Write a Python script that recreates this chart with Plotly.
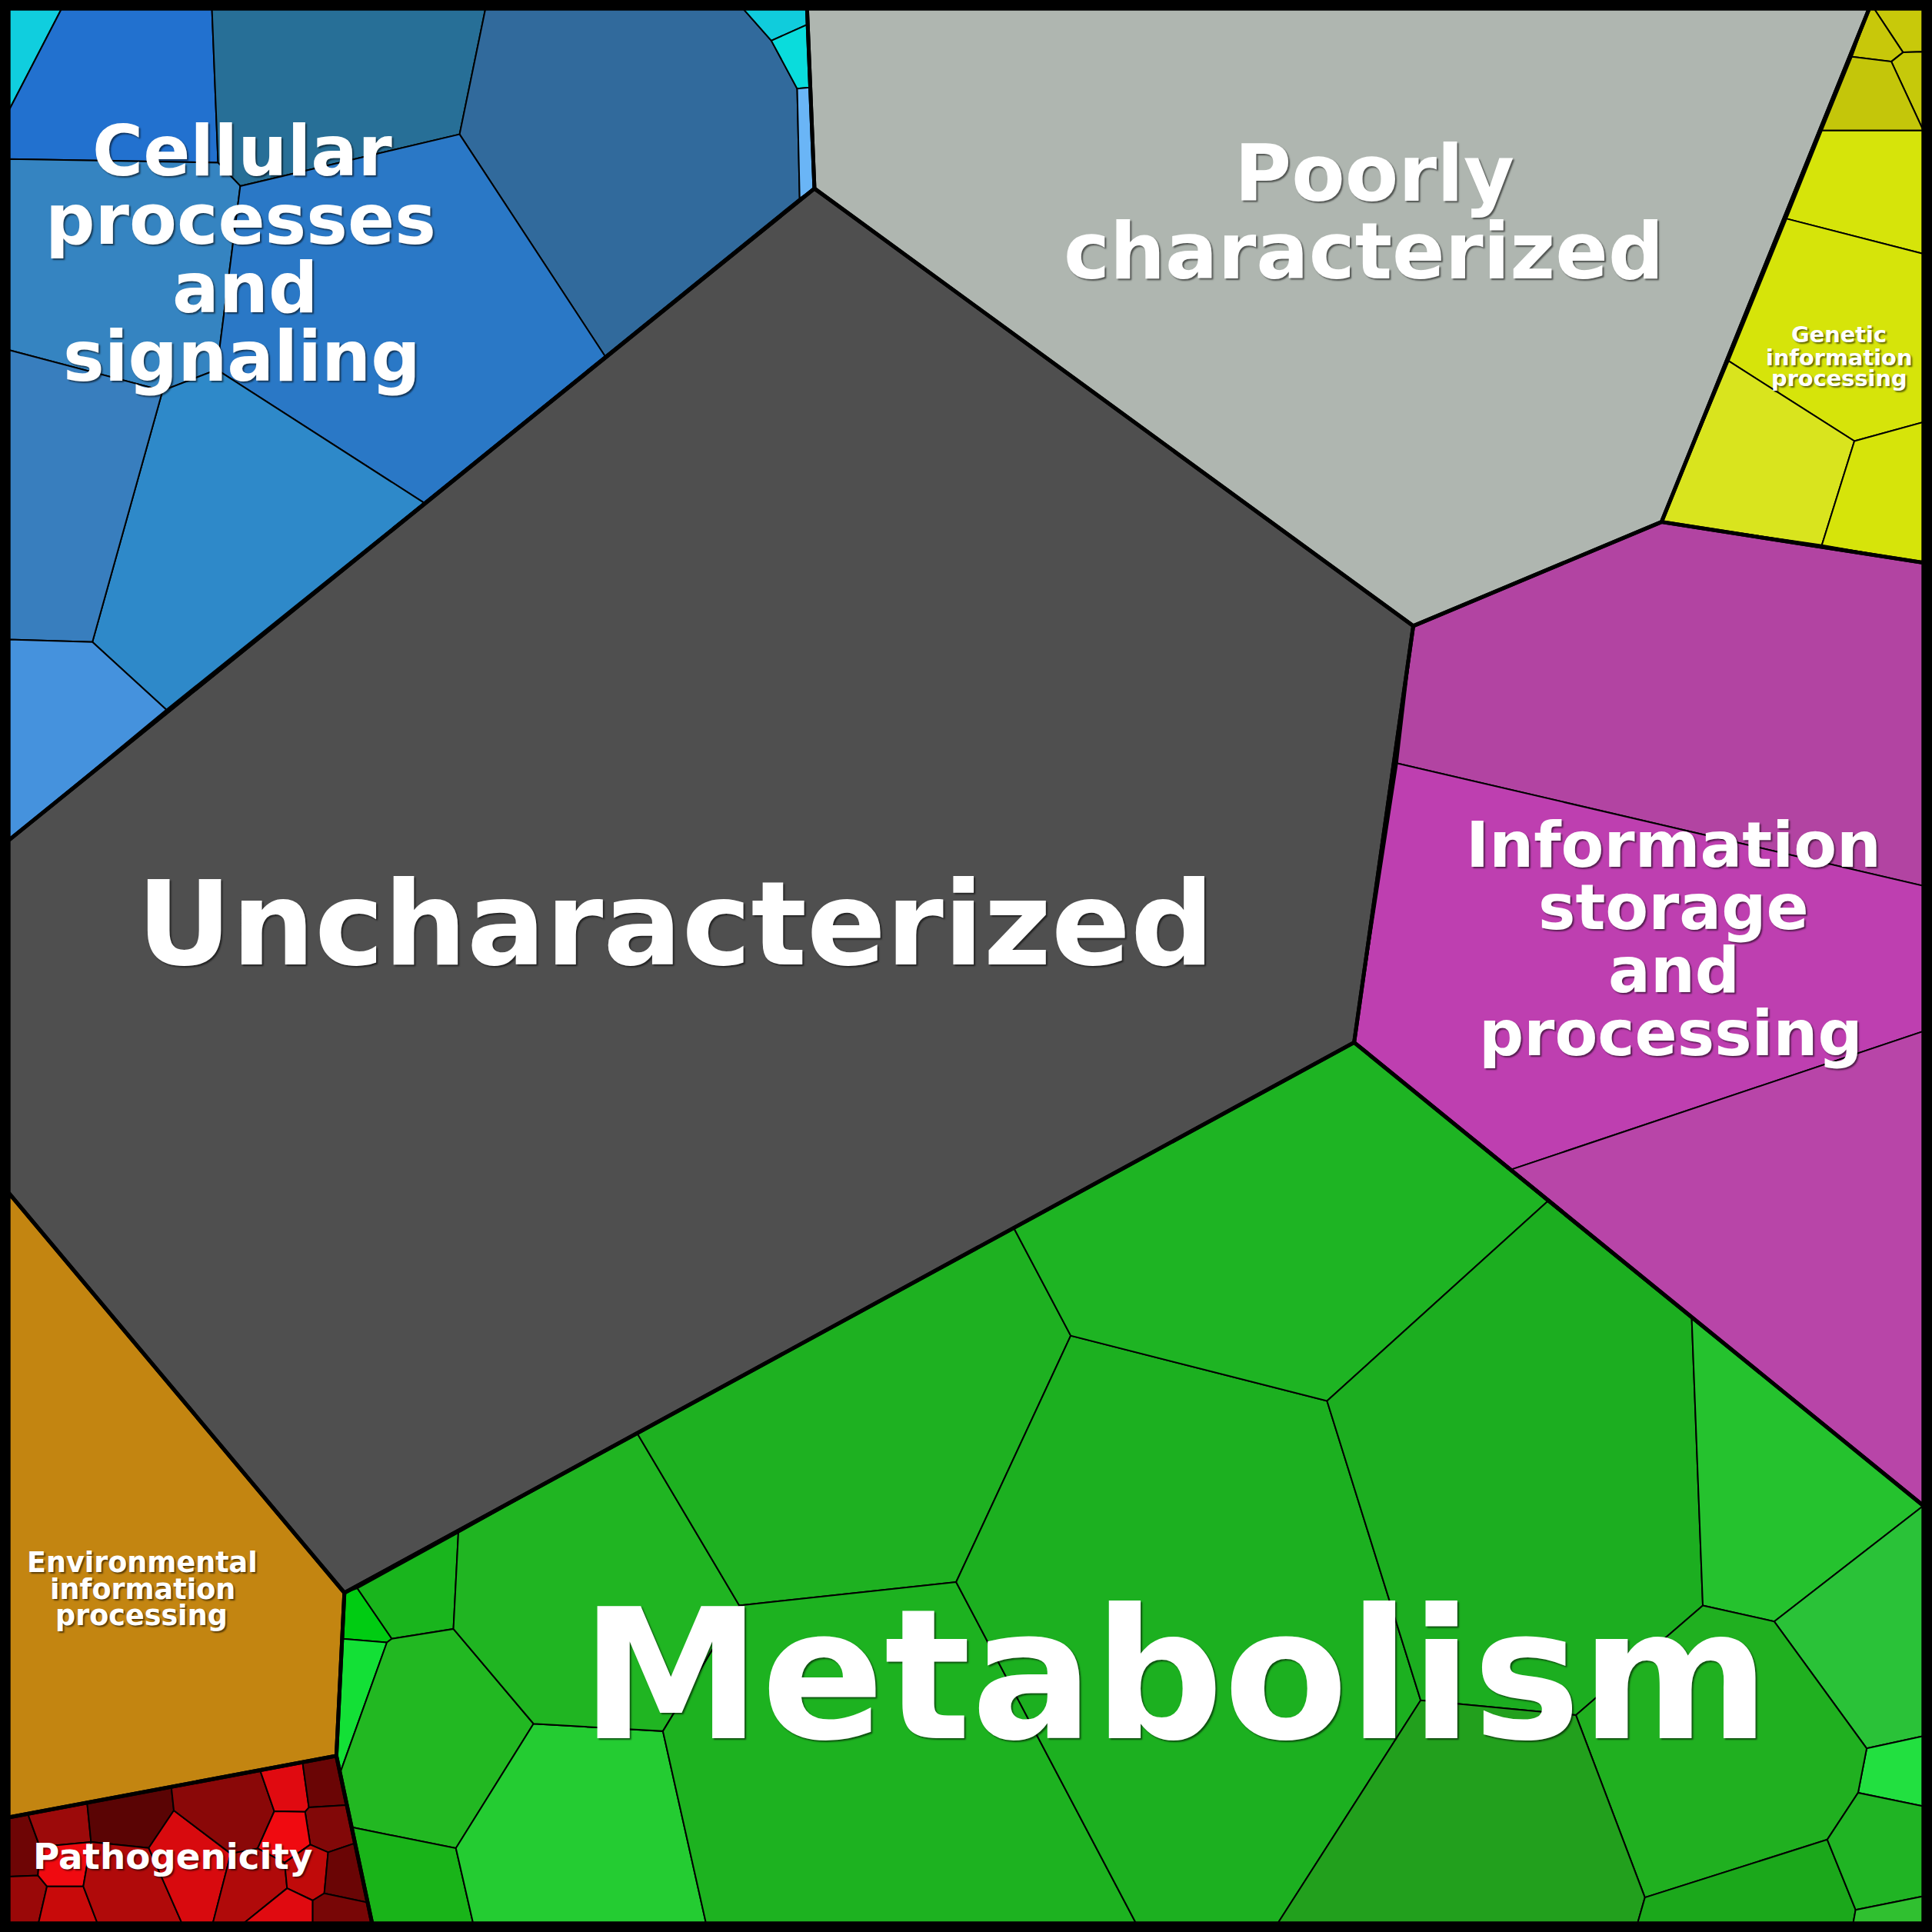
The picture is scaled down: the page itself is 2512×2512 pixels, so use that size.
import plotly.graph_objects as go

# Coordinate system: 0..1568 units across the square canvas (y grows downward)
CANVAS = 1568
PX = 2512

# ---------------- cell polygons (vertex lists) ----------------
CELLULAR_CELLS = [
    [(7, 7), (50, 7), (7, 90)],
    [(50, 7), (172, 7), (177, 132), (7, 129), (7, 90)],
    [(172, 7), (394, 7), (373, 109), (195, 151), (177, 132)],
    [(394, 7), (603, 7), (626, 33), (647, 72), (649, 161), (491, 289), (373, 109)],
    [(603, 7), (655, 7), (655, 20), (626, 33)],
    [(626, 33), (655, 20), (657, 71), (647, 72)],
    [(647, 72), (657, 71), (661, 153), (649, 161)],
    [(7, 129), (177, 132), (195, 151), (176, 300), (132, 317), (7, 284)],
    [(195, 151), (373, 109), (491, 289), (344, 408), (176, 300)],
    [(132, 317), (176, 300), (344, 408), (135, 576), (75, 521)],
    [(7, 284), (132, 317), (75, 521), (7, 519)],
    [(7, 519), (75, 521), (135, 576), (7, 682)],
]
CELLULAR_COLORS = ["#10cede", "#2271cf", "#276f97", "#316a9c", "#10ccdc", "#0adcdc",
                   "#6ab5f6", "#3584c1", "#2a78c6", "#2e89c9", "#387ebe", "#4592dd"]

POORLY_CELLS = [[(655, 7), (1517, 7), (1348.5, 423.6), (1147, 508), (661, 153)]]
POORLY_COLORS = ["#afb6b0"]

GENETIC_CELLS = [
    [(1521, 7), (1561, 7), (1561, 42), (1544.5, 42.5)],
    [(1517, 7), (1521, 7), (1544.5, 42.5), (1535, 50), (1503, 46)],
    [(1544.5, 42.5), (1561, 42), (1561, 106), (1535, 50)],
    [(1503, 46), (1535, 50), (1561, 106), (1478.6, 106)],
    [(1478.6, 106), (1561, 106), (1561, 206), (1450, 177.5)],
    [(1450, 177.5), (1561, 206), (1561, 342.6), (1505, 358), (1403, 293)],
    [(1403, 293), (1505, 358), (1478.6, 442.4), (1348.5, 423.6)],
    [(1505, 358), (1561, 342.6), (1561, 456.7), (1478.6, 442.4)],
]
GENETIC_COLORS = ["#c8c90a", "#c8c80a", "#c6c90a", "#c4c60a",
                  "#d6e40a", "#d6e40a", "#d9e41e", "#d6e40a"]

INFO_CELLS = [
    [(1147, 508), (1348.5, 423.6), (1561, 456.7), (1561, 719), (1134, 619.5)],
    [(1134, 619.5), (1561, 719), (1561, 837), (1227, 949), (1099, 846)],
    [(1227, 949), (1561, 837), (1561, 1222)],
]
INFO_COLORS = ["#b244a2", "#be3fb0", "#b845a8"]

UNCHAR_CELLS = [[(7, 682), (661, 153), (1147, 508), (1099, 846), (279.5, 1292.7), (7, 968)]]
UNCHAR_COLORS = ["#4f4f4f"]

ENV_CELLS = [[(7, 968), (279.5, 1292.7), (273, 1425), (7, 1475)]]
ENV_COLORS = ["#c38511"]

METAB_CELLS = [
    [(279.5, 1292.7), (290, 1289), (318, 1330), (314, 1333), (278, 1330)],
    [(278, 1330), (314, 1333), (276, 1439), (273, 1425)],
    [(290, 1289), (372, 1244), (368, 1322), (318, 1330)],
    [(314, 1333), (318, 1330), (368, 1322), (433, 1399), (370, 1500), (285.5, 1483), (276, 1439)],
    [(285.5, 1483), (370, 1500), (384, 1561), (302, 1561)],
    [(433, 1399), (538, 1405), (573, 1561), (384, 1561), (370, 1500)],
    [(372, 1244), (517, 1163), (600, 1303), (538, 1405), (433, 1399), (368, 1322)],
    [(517, 1163), (823, 997), (869, 1084), (776, 1284), (600, 1303)],
    [(538, 1405), (600, 1303), (776, 1284), (922, 1561), (573, 1561)],
    [(776, 1284), (869, 1084), (1077, 1137), (1153, 1380), (1037, 1561), (922, 1561)],
    [(823, 997), (1099, 846), (1256, 975), (1077, 1137), (869, 1084)],
    [(1077, 1137), (1256, 975), (1373, 1070), (1382, 1303), (1279, 1392), (1153, 1380)],
    [(1373, 1070), (1561, 1222), (1440, 1316), (1382, 1303)],
    [(1440, 1316), (1561, 1222), (1561, 1409), (1515, 1419)],
    [(1515, 1419), (1561, 1409), (1561, 1466), (1508, 1455)],
    [(1382, 1303), (1440, 1316), (1515, 1419), (1508, 1455), (1483, 1493), (1335, 1540), (1279, 1392)],
    [(1153, 1380), (1279, 1392), (1335, 1540), (1329, 1561), (1037, 1561)],
    [(1335, 1540), (1483, 1493), (1506, 1550), (1504, 1561), (1329, 1561)],
    [(1483, 1493), (1508, 1455), (1561, 1466), (1561, 1539), (1506, 1550)],
    [(1506, 1550), (1561, 1539), (1561, 1561), (1504, 1561)],
]
METAB_COLORS = ["#00cc12", "#13e036", "#19b51d", "#22b822", "#19b419", "#24cc32",
                "#20b522", "#1eb121", "#1db220", "#1cb020", "#1eb423", "#1cae20",
                "#25c22e", "#2ac238", "#22e040", "#20b020", "#22a01d", "#1ba81b",
                "#20b424", "#30c030"]

# pathogenicity vertices
_P = {
    "a": (7, 1475), "b": (22.5, 1472), "c": (70.7, 1463), "d": (139, 1450),
    "e": (211, 1436.5), "f": (245.5, 1430), "g": (273, 1425), "h": (32.3, 1498.8),
    "i": (73.9, 1495), "j": (120.7, 1499.8), "k": (141.1, 1469.4), "l": (222.6, 1470),
    "m": (247.6, 1470.5), "n": (250.7, 1466.9), "o": (281, 1465), "p": (251.8, 1497.1),
    "q": (266.3, 1503.3), "r": (288, 1496), "s": (263.2, 1536.6), "t": (253.8, 1542.4),
    "u": (298, 1544), "v": (233, 1532.5), "w": (209.1, 1500.2), "x": (231, 1511.7),
    "y": (187.3, 1504.4), "z": (131.1, 1523.1), "A": (147.7, 1561), "B": (172.7, 1561),
    "C": (197.7, 1561), "D": (253.8, 1561), "E": (302, 1561), "F": (7, 1523.1),
    "G": (30.8, 1522.1), "H": (38.1, 1531), "I": (67.6, 1531), "J": (79.1, 1561),
    "K": (31.2, 1561), "L": (7, 1561),
}
PATHO_KEYS = ["abhGF", "FGHKL", "bcih", "hiIHG", "HIJK", "cdkji", "ijzAJI", "jkyBAz",
              "delwyk", "efnml", "fgon", "norqpm", "lmpxw", "wxvCBy", "pqstvx", "qrus",
              "vtDC", "tsuED"]
PATHO_CELLS = [[_P[ch] for ch in key] for key in PATHO_KEYS]
PATHO_COLORS = ["#6e0505", "#9a0808", "#9c0a0a", "#f00a10", "#c80a0a", "#5a0404",
                "#b00a0a", "#d80a0e", "#8a0808", "#e00a10", "#6a0505", "#820808",
                "#f00a10", "#b00a0a", "#c00a0a", "#6a0505", "#e00a10", "#780606"]

# ---------------- group outlines ----------------
GROUP_OUTLINES = [
    [(7, 7), (655, 7), (661, 153), (7, 682)],
    [(655, 7), (1517, 7), (1348.5, 423.6), (1147, 508), (661, 153)],
    [(1517, 7), (1561, 7), (1561, 456.7), (1348.5, 423.6)],
    [(1147, 508), (1348.5, 423.6), (1561, 456.7), (1561, 1222), (1099, 846)],
    [(7, 682), (661, 153), (1147, 508), (1099, 846), (279.5, 1292.7), (7, 968)],
    [(1099, 846), (1561, 1222), (1561, 1561), (302, 1561), (273, 1425), (279.5, 1292.7)],
    [(7, 968), (279.5, 1292.7), (273, 1425), (7, 1475)],
    [(7, 1475), (273, 1425), (302, 1561), (7, 1561)],
]

# ---------------- labels ----------------
LABEL_LINES = [
    ["Cellular", "processes", "and", "signaling"],
    ["Poorly", "characterized"],
    ["Genetic", "information", "processing"],
    ["Information", "storage", "and", "processing"],
    ["Uncharacterized"],
    ["Metabolism"],
    ["Environmental", "information", "processing"],
    ["Pathogenicity"],
]
LABEL_X = [
    [196.5, 195.5, 199, 196],
    [1115.5, 1107],
    [1492.5, 1492.5, 1492.5],
    [1358.5, 1358, 1358.5, 1356],
    [548.5],
    [954],
    [115.5, 115.5, 115],
    [140.2],
]
LABEL_BASELINE = [
    [142, 197.5, 253, 308.5],
    [163, 226],
    [278, 296.3, 313.5],
    [703, 754, 805, 856],
    [783],
    [1411],
    [1276, 1298, 1319],
    [1517],
]
LABEL_EM = [56.3, 63.2, 18.0, 50.8, 94.7, 147.3, 22.8, 29.2]

fig = go.Figure()


def add_cells(cells, colors):
    for poly, col in zip(cells, colors):
        xs = [p[0] for p in poly] + [poly[0][0]]
        ys = [p[1] for p in poly] + [poly[0][1]]
        fig.add_trace(go.Scatter(x=xs, y=ys, mode="lines", fill="toself", fillcolor=col,
                                 line=dict(color="black", width=2), hoverinfo="skip",
                                 showlegend=False))


for cells, colors in [(CELLULAR_CELLS, CELLULAR_COLORS), (POORLY_CELLS, POORLY_COLORS),
                      (GENETIC_CELLS, GENETIC_COLORS), (INFO_CELLS, INFO_COLORS),
                      (UNCHAR_CELLS, UNCHAR_COLORS), (ENV_CELLS, ENV_COLORS),
                      (METAB_CELLS, METAB_COLORS), (PATHO_CELLS, PATHO_COLORS)]:
    add_cells(cells, colors)

for poly in GROUP_OUTLINES:
    xs = [p[0] for p in poly] + [poly[0][0]]
    ys = [p[1] for p in poly] + [poly[0][1]]
    fig.add_trace(go.Scatter(x=xs, y=ys, mode="lines", line=dict(color="black", width=5),
                             hoverinfo="skip", showlegend=False))

scale = PX / CANVAS
for lines, xs, bases, em in zip(LABEL_LINES, LABEL_X, LABEL_BASELINE, LABEL_EM):
    for txt, x, base in zip(lines, xs, bases):
        fig.add_annotation(
            x=x, y=base - 0.346 * em, text=txt, showarrow=False,
            xanchor="center", yanchor="middle",
            font=dict(family="DejaVu Sans", size=em * scale, color="white",
                      weight="bold",
                      shadow="2px 2px 2px rgba(0,0,0,0.55)"),
        )

fig.update_layout(
    width=PX, height=PX,
    margin=dict(l=0, r=0, t=0, b=0),
    paper_bgcolor="black", plot_bgcolor="black",
    xaxis=dict(range=[0, CANVAS], visible=False, fixedrange=True),
    yaxis=dict(range=[CANVAS, 0], visible=False, fixedrange=True),
    showlegend=False,
)

fig.write_html("out.html", config={"displayModeBar": False},
               post_script="document.body.style.margin='0px';document.body.style.padding='0px';")
